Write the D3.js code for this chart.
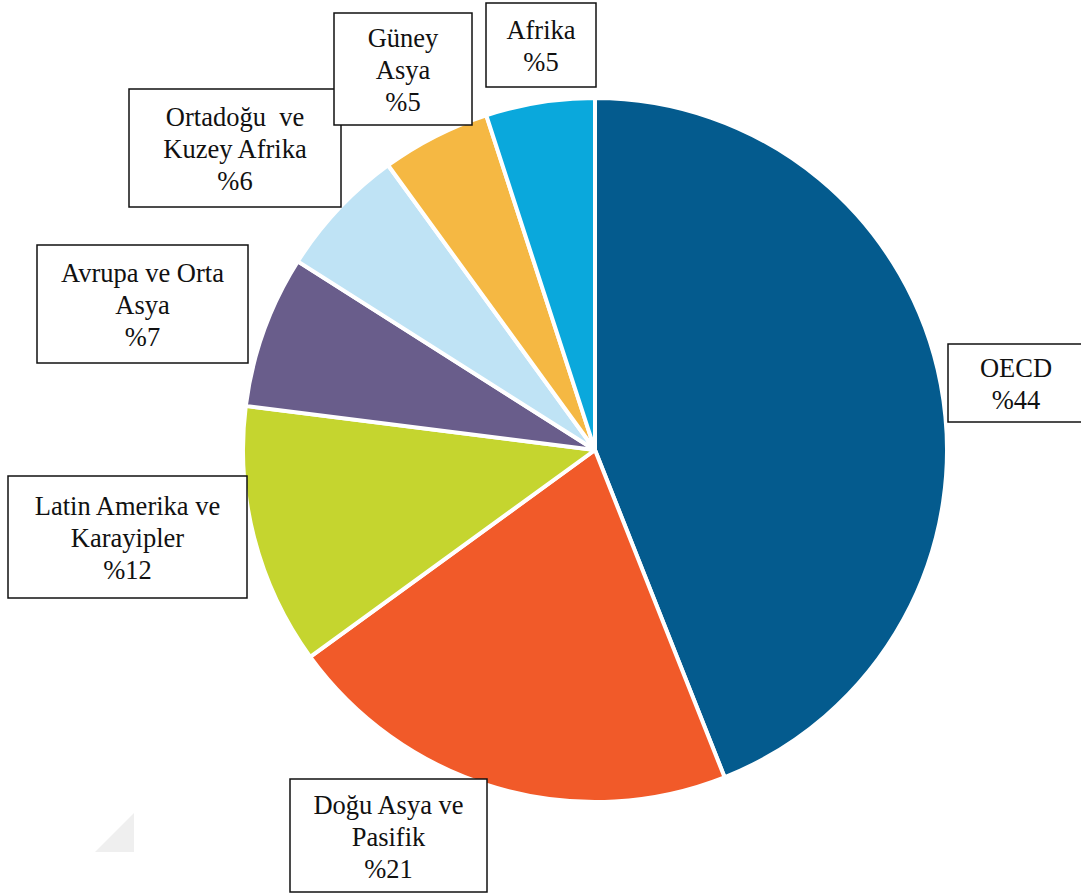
<!DOCTYPE html>
<html>
<head>
<meta charset="utf-8">
<script src="https://cdn.jsdelivr.net/npm/d3@7"></script>
<style>
  html, body { margin: 0; padding: 0; background: #fff; }
  svg { display: block; }
  text { white-space: pre; }
</style>
</head>
<body>
<svg id="chart" width="1081" height="895"></svg>
<script>
// ---- data ----
const categories = [
  "OECD",
  "Doğu Asya ve Pasifik",
  "Latin Amerika ve Karayipler",
  "Avrupa ve Orta Asya",
  "Ortadoğu ve Kuzey Afrika",
  "Güney Asya",
  "Afrika"
];
const values = [44, 21, 12, 7, 6, 5, 5];
const labelLines = [
  ["OECD"],
  ["Doğu Asya ve", "Pasifik"],
  ["Latin Amerika ve", "Karayipler"],
  ["Avrupa ve Orta", "Asya"],
  ["Ortadoğu  ve", "Kuzey Afrika"],
  ["Güney", "Asya"],
  ["Afrika"]
];
const colors = ["#045b8e", "#f15a29", "#c5d52f", "#695d8b", "#bfe3f5", "#f5b843", "#0aa8dc"];

// ---- layout (label boxes: x0, y0, x1, y1) ----
const boxes = [
  [948, 344, 1085, 422],
  [290, 779, 487, 892],
  [8, 476, 247, 598],
  [37, 245, 248, 363],
  [129, 89, 341, 207],
  [334, 13, 472, 125],
  [486, 3, 596, 87]
];

const svg = d3.select("#chart");
const cx = 595, cy = 450, R = 352;
const FONT = "'Times New Roman', 'Liberation Serif', 'DejaVu Serif', serif";

// faint watermark corner
svg.append("polygon")
  .attr("points", "134,813 95,852 134,852")
  .attr("fill", "#efefef");

const pie = d3.pie().sort(null).value(d => d);
const arc = d3.arc().innerRadius(0).outerRadius(R);
const color = d3.scaleOrdinal().domain(categories).range(colors);

const arcs = pie(values);
svg.append("g")
  .attr("transform", `translate(${cx},${cy})`)
  .selectAll("path")
  .data(arcs)
  .join("path")
  .attr("d", arc)
  .attr("fill", (d, i) => color(categories[i]))
  .attr("stroke", "#fff")
  .attr("stroke-width", 4)
  .attr("stroke-linejoin", "round");

// label boxes
const lg = svg.append("g");
categories.forEach((c, i) => {
  const [x0, y0, x1, y1] = boxes[i];
  lg.append("rect")
    .attr("x", x0).attr("y", y0)
    .attr("width", x1 - x0).attr("height", y1 - y0)
    .attr("fill", "#fff")
    .attr("stroke", "#111")
    .attr("stroke-width", 1.5);
  const lines = labelLines[i].concat(["%" + values[i]]);
  const mx = (x0 + x1) / 2, my = (y0 + y1) / 2;
  const n = lines.length;
  const t = lg.append("text")
    .attr("text-anchor", "middle")
    .attr("font-family", FONT)
    .style("font-family", FONT)
    .attr("font-size", 26.5)
    .attr("fill", "#111");
  lines.forEach((ln, j) => {
    t.append("tspan")
      .attr("x", i === 0 ? 1016 : mx)
      .attr("y", my + (j - (n - 1) / 2) * 32 + 10)
      .text(ln);
  });
});
</script>
</body>
</html>
